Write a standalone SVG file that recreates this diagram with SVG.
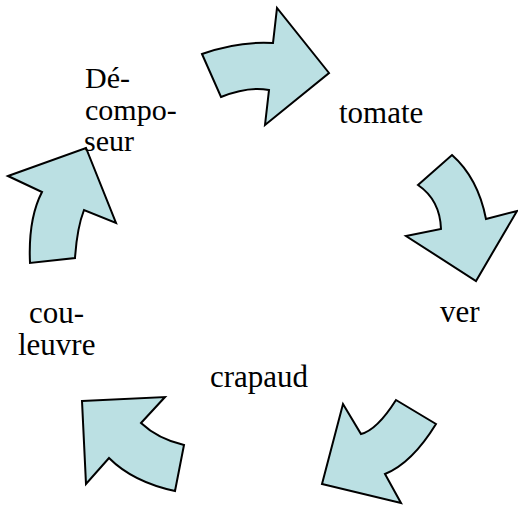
<svg xmlns="http://www.w3.org/2000/svg" width="518" height="506" viewBox="0 0 518 506">
  <style>
    .arrow { fill: #BBE0E3; stroke: #000; stroke-width: 2; stroke-linejoin: miter; }
  </style>
  <rect width="518" height="506" fill="#fff"/>
  <g id="connectors">
    <path id="arrow-decomposeur-tomate" class="arrow" d="M202,54 Q238,41 273,43 L277,8 L329,73 L265,125 L269,90 Q248,86 221,97 Z"/>
    <path id="arrow-tomate-ver" class="arrow" d="M418,185 L452,155 Q478,178 486,219 L517,211 L476,281 L406,236 L441,229 Q440,200 418,185 Z"/>
    <path id="arrow-ver-crapaud" class="arrow" d="M396,400 L436,424 Q412,463 385,474 L401,503 L322,484 L343,404 L361,434 Q377,430 396,400 Z"/>
    <path id="arrow-crapaud-couleuvre" class="arrow" d="M82,401 L165,397 L141,423 Q158,439 184,445 L175,491 Q133,482 109,458 L86,484 Z"/>
    <path id="arrow-couleuvre-decomposeur" class="arrow" d="M8,176 L86,148 L116,223 L84,210 Q77,228 75,258 L30,263 Q28,219 42,192 Z"/>
  </g>
  <g font-family="'Liberation Serif', 'Times New Roman', serif" font-size="31" fill="#000">
    <g id="decomposeur" font-size="30">
      <text x="85" y="88">Dé-</text>
      <text x="85" y="120">compo-</text>
      <text x="84" y="151">seur</text>
    </g>
    <g id="tomate">
      <text x="339" y="123">tomate</text>
    </g>
    <g id="ver">
      <text x="440" y="322">ver</text>
    </g>
    <g id="crapaud">
      <text x="210" y="387">crapaud</text>
    </g>
    <g id="couleuvre">
      <text x="29" y="323">cou-</text>
      <text x="18" y="355">leuvre</text>
    </g>
  </g>
</svg>
